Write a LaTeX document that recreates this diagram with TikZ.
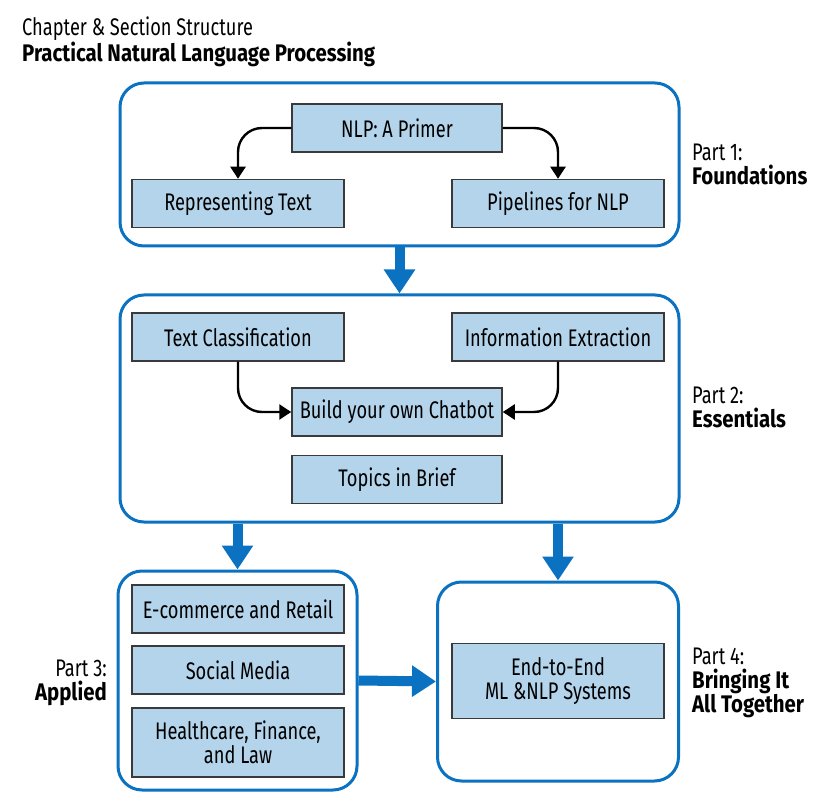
\documentclass[tikz,border=0pt]{standalone}
\usepackage{fontspec}
\setmainfont{Fira Sans}[FakeStretch=0.76, BoldFeatures={FakeStretch=0.85}]
\usetikzlibrary{arrows.meta}
\definecolor{cblue}{HTML}{0B72C1}
\definecolor{cfill}{HTML}{B3D4EA}
\definecolor{cedge}{HTML}{3A3A3A}
\begin{document}
\begin{tikzpicture}[x=1pt,y=-1pt,
  font=\fontsize{24}{23.5}\selectfont,
  box/.style={draw=cedge, fill=cfill, line width=1.5pt, minimum width=212pt,
    minimum height=48pt, inner sep=0pt, align=center},
  partbox/.style={draw=cblue, line width=3pt, rounded corners=24pt, inner sep=0pt},
  curvearrow/.style={draw=black, line width=2.4pt, rounded corners=24pt,
    -{Triangle[width=15pt,length=12pt]}},
  bigarrow/.style={draw=cblue, line width=10pt, -{Triangle[width=30pt,length=24pt]}},
  lbl/.style={inner sep=0pt, align=left, anchor=north west}]
\useasboundingbox (0,0) rectangle (820,802);

% title
\node[lbl] (title) at (22,17) {Chapter \& Section Structure\\\textbf{Practical Natural Language Processing}};

% containers
\node[partbox, minimum width=559pt, minimum height=163pt] (p1) at (399.5,164.5) {};
\node[partbox, minimum width=559pt, minimum height=227pt] (p2) at (399.5,408.5) {};
\node[partbox, minimum width=239pt, minimum height=219pt] (p3) at (237.5,680.5) {};
\node[partbox, minimum width=241pt, minimum height=199pt] (p4) at (558,681.5) {};

% part 1
\node[box, minimum width=210pt] (primer) at (397,128) {NLP: A Primer};
\node[box] (rep) at (238,203.5) {Representing Text};
\node[box] (pipe) at (558,203.5) {Pipelines for NLP};
\draw[curvearrow] (primer.west) -| (rep.north);
\draw[curvearrow] (primer.east) -| (pipe.north);

% part 2
\node[box] (tc) at (238,337) {Text Classification};
\node[box] (ie) at (558,337) {Information Extraction};
\node[box, minimum width=210pt] (chat) at (397,412) {Build your own Chatbot};
\node[box, minimum width=210pt] (topics) at (397,479.5) {Topics in Brief};
\draw[curvearrow] (tc.south) |- (chat.west);
\draw[curvearrow] (ie.south) |- (chat.east);

% part 3
\node[box] (ecom) at (238,609) {E-commerce and Retail};
\node[box] (social) at (238,670) {Social Media};
\node[box, minimum height=69pt] (health) at (238,742.5) {Healthcare, Finance,\\and Law};

% part 4
\node[box, minimum height=75pt] (e2e) at (558,681) {End-to-End\\ML \&NLP Systems};

% big arrows
\draw[bigarrow] (p1.south) -- (p2.north);
\draw[bigarrow] (p2.south -| p3.north) -- (p3.north);
\draw[bigarrow] (p2.south -| p4.north) -- (p4.north);
\draw[bigarrow] (p3.east) -- (p4.west);

% part labels
\node[lbl] (l1) at (692,144) {Part 1:\\\textbf{Foundations}};
\node[lbl] (l2) at (692,387) {Part 2:\\\textbf{Essentials}};
\node[lbl, align=right, anchor=north east] (l3) at (107,660) {Part 3:\\\textbf{Applied}};
\node[lbl] (l4) at (692,648) {Part 4:\\\textbf{Bringing It}\\\textbf{All Together}};
\end{tikzpicture}
\end{document}
